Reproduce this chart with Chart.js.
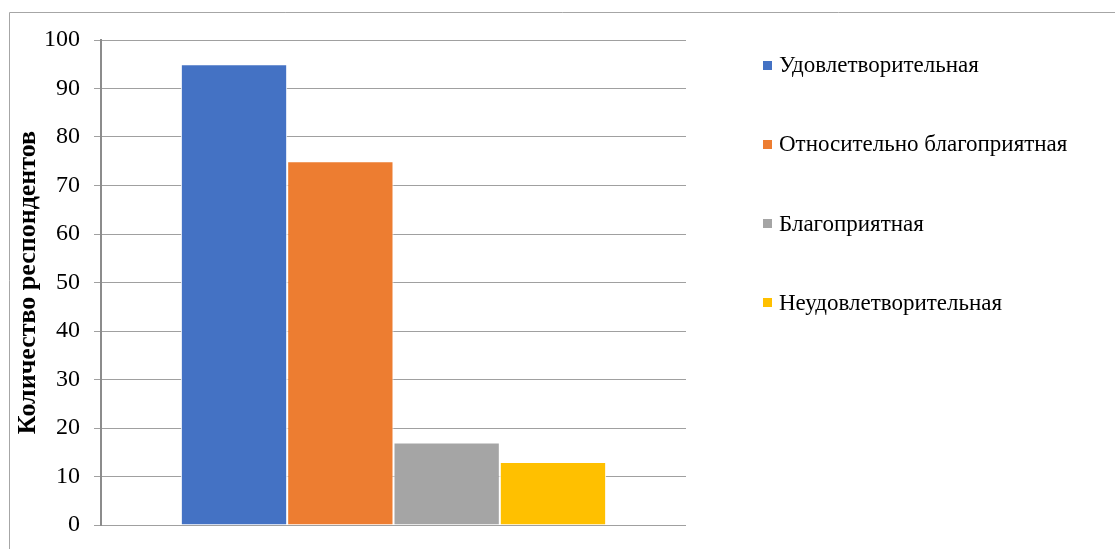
<!DOCTYPE html>
<html>
<head>
<meta charset="utf-8">
<script src="https://cdn.jsdelivr.net/npm/chart.js@4/dist/chart.umd.min.js"></script>
<style>
  html, body { margin: 0; padding: 0; background: #fff; }
  #wrap { width: 1115px; height: 549px; position: relative; }
</style>
</head>
<body>
<div id="wrap"><canvas id="chart" width="1115" height="549"></canvas></div>
<script>
// Оценка респондентами (количество человек)
const categories = [''];
const seriesNames = [
  'Удовлетворительная',
  'Относительно благоприятная',
  'Благоприятная',
  'Неудовлетворительная'
];
const seriesValues = [95, 75, 17, 13];
const seriesColors = ['#4472C4', '#ED7D31', '#A5A5A5', '#FFC000'];
const yTicks = [0, 10, 20, 30, 40, 50, 60, 70, 80, 90, 100];
const yTitle = 'Количество респондентов';

const serif = "'Liberation Serif', 'Times New Roman', serif";

// рамка вокруг диаграммы + легенда справа
const framePlugin = {
  id: 'frame',
  afterDraw(chart) {
    const ctx = chart.ctx;
    ctx.save();
    ctx.strokeStyle = '#a6a6a6';
    ctx.lineWidth = 1;
    ctx.beginPath();
    ctx.moveTo(9.5, chart.height);
    ctx.lineTo(9.5, 12.5);
    ctx.lineTo(chart.width, 12.5);
    ctx.stroke();

    ctx.font = '23px ' + serif;
    ctx.textBaseline = 'middle';
    chart.data.datasets.forEach((ds, i) => {
      const y = 65 + i * 79.3;
      ctx.fillStyle = ds.backgroundColor;
      ctx.fillRect(763, Math.round(y - 4.5), 9, 9);
      ctx.fillStyle = '#000';
      ctx.fillText(ds.label, 779, y + 1);
    });
    ctx.restore();
  }
};

new Chart(document.getElementById('chart'), {
  type: 'bar',
  data: {
    labels: categories,
    datasets: seriesNames.map((name, i) => ({
      label: name,
      data: [seriesValues[i]],
      backgroundColor: seriesColors[i],
      borderColor: '#ffffff',
      borderWidth: 1,
      barPercentage: 1,
      categoryPercentage: 0.727
    }))
  },
  options: {
    responsive: false,
    animation: false,
    layout: { padding: { top: 40, right: 429, bottom: 24, left: 0 } },
    plugins: {
      legend: { display: false },
      tooltip: { enabled: false }
    },
    scales: {
      x: { display: false },
      y: {
        min: 0,
        max: 100,
        afterBuildTicks(scale) {
          scale.ticks = yTicks.map(v => ({ value: v }));
        },
        afterFit(scale) {
          scale.width = 101;
          scale.paddingTop = 0;
          scale.paddingBottom = 0;
        },
        border: { color: '#8c8c8c', width: 2 },
        grid: { color: '#a0a0a0', lineWidth: 1, tickLength: 7 },
        ticks: {
          color: '#000',
          padding: 14,
          font: { family: serif, size: 24 }
        },
        title: {
          display: true,
          text: yTitle,
          color: '#000',
          padding: { top: 13, bottom: 0 },
          font: { family: serif, size: 26, weight: 'bold' }
        }
      }
    }
  },
  plugins: [framePlugin]
});
</script>
</body>
</html>
